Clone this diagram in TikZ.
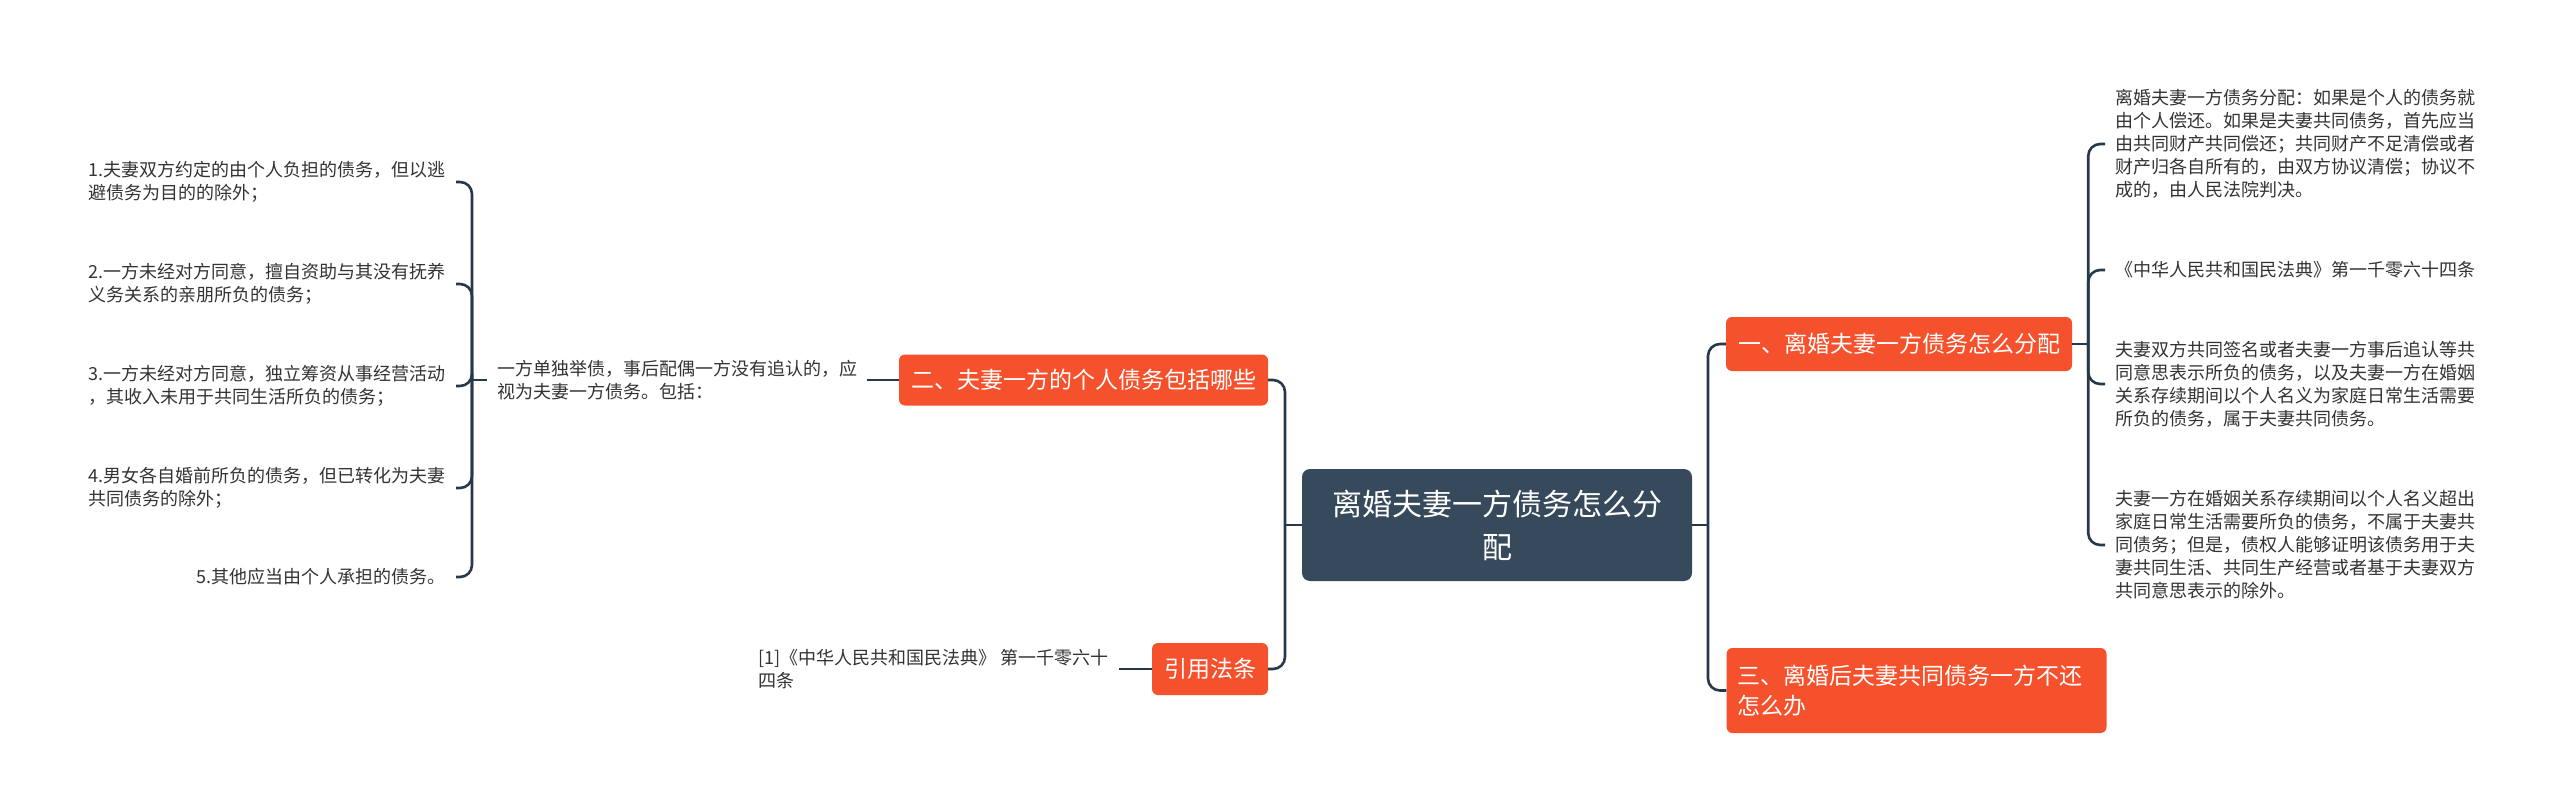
\documentclass[tikz,border=0pt]{standalone}
\usepackage{fontspec}
\setmainfont{Noto Sans CJK SC}
\usetikzlibrary{calc}
\definecolor{linec}{HTML}{27384A}
\definecolor{orangec}{HTML}{F5512C}
\definecolor{darkc}{HTML}{374A5B}
\definecolor{txtc}{HTML}{333333}
\begin{document}
\begin{tikzpicture}[x=1pt,y=-1pt,
  conn/.style={draw=linec, line width=2.6pt, rounded corners=12pt},
  leaf/.style={font=\fontsize{18}{23}\selectfont, text=txtc, align=left, inner xsep=10pt, inner ysep=2pt},
  topic/.style={fill=orangec, text=white, rounded corners=6pt, font=\fontsize{23}{30}\selectfont, inner xsep=12pt, inner ysep=0pt},
  root/.style={fill=darkc, text=white, rounded corners=8pt, align=center, font=\fontsize{30}{43}\selectfont, minimum width=390pt, minimum height=112pt}]
\useasboundingbox[fill=white] (0,0) rectangle (2560,811);

% root
\node[root] (c) at (1497,525) {离婚夫妻一方债务怎么分\\配};

% main topics
\node[topic, minimum height=51pt] (n2) at (1083.5,380) {二、夫妻一方的个人债务包括哪些};
\node[topic, minimum height=52pt] (yin) at (1210,669) {引用法条};
\node[topic, minimum height=54pt] (n1) at (1899,344) {一、离婚夫妻一方债务怎么分配};
\node[topic, minimum height=85pt, text width=358pt, align=left, inner xsep=11pt] (n3) at (1916.5,690.5) {三、离婚后夫妻共同债务一方不还\\怎么办};

% left side text
\node[leaf, anchor=west] (t2) at (487,380) {一方单独举债，事后配偶一方没有追认的，应\\视为夫妻一方债务。包括：};
\node[leaf, anchor=east] (cite) at (1119,669) {[1]《中华人民共和国民法典》 第一千零六十\\四条};

\node[leaf, anchor=east] (L1) at (456,182) {1.夫妻双方约定的由个人负担的债务，但以逃\\避债务为目的的除外；};
\node[leaf, anchor=east] (L2) at (456,284) {2.一方未经对方同意，擅自资助与其没有抚养\\义务关系的亲朋所负的债务；};
\node[leaf, anchor=east] (L3) at (456,386) {3.一方未经对方同意，独立筹资从事经营活动\\，其收入未用于共同生活所负的债务；};
\node[leaf, anchor=east] (L4) at (456,488) {4.男女各自婚前所负的债务，但已转化为夫妻\\共同债务的除外；};
\node[leaf, anchor=east] (L5) at (456,577) {5.其他应当由个人承担的债务。};

% right side text
\node[leaf, anchor=west] (R1) at (2105,144) {离婚夫妻一方债务分配：如果是个人的债务就\\由个人偿还。如果是夫妻共同债务，首先应当\\由共同财产共同偿还；共同财产不足清偿或者\\财产归各自所有的，由双方协议清偿；协议不\\成的，由人民法院判决。};
\node[leaf, anchor=west] (R2) at (2105,270) {《中华人民共和国民法典》第一千零六十四条};
\node[leaf, anchor=west] (R3) at (2105,384) {夫妻双方共同签名或者夫妻一方事后追认等共\\同意思表示所负的债务，以及夫妻一方在婚姻\\关系存续期间以个人名义为家庭日常生活需要\\所负的债务，属于夫妻共同债务。};
\node[leaf, anchor=west] (R4) at (2105,545) {夫妻一方在婚姻关系存续期间以个人名义超出\\家庭日常生活需要所负的债务，不属于夫妻共\\同债务；但是，债权人能够证明该债务用于夫\\妻共同生活、共同生产经营或者基于夫妻双方\\共同意思表示的除外。};

% trunks
\coordinate (LT) at (1285,525);
\coordinate (RT) at (1708,525);
\coordinate (LJ) at ([xshift=-15pt]t2.west);
\coordinate (RJ) at ([xshift=16pt]n1.east);

\draw[conn] (c.west) -- (LT |- c.west);
\draw[conn] (n2.east) -| (LT |- yin.east) -- (yin.east);
\draw[conn] (c.east) -- (RT |- c.east);
\draw[conn] (n1.west) -| (RT |- n3.west) -- (n3.west);

\draw[conn] (t2.east) -- (n2.west);
\draw[conn] (cite.east) -- (yin.west);
\draw[conn] (LJ) -- (t2.west);
\foreach \i in {L1,L2,L3,L4,L5} { \draw[conn] (LJ) |- (\i.east); }

\draw[conn] (n1.east) -- (RJ);
\foreach \i in {R1,R2,R3,R4} { \draw[conn] (RJ) |- (\i.west); }
\end{tikzpicture}
\end{document}
